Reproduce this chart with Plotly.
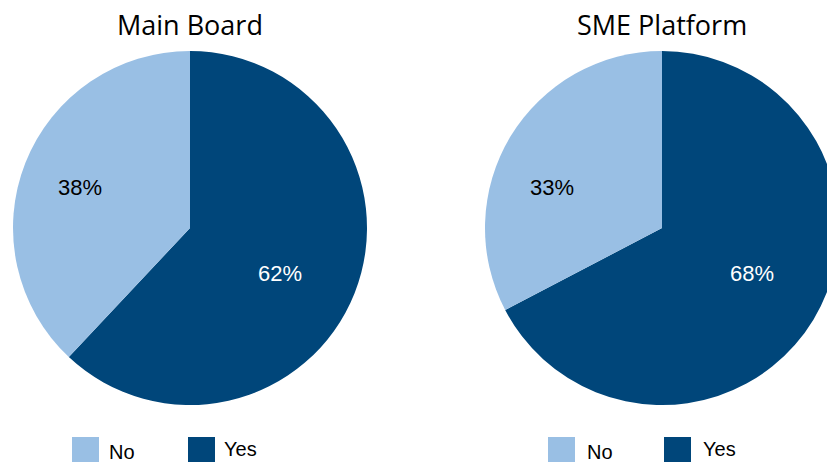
import plotly.graph_objects as go

# ---- data ----
panels = ["Main Board", "SME Platform"]
categories = ["Yes", "No"]
main_board_values = [62, 38]
sme_platform_values = [68, 33]
legend_labels = ["No", "Yes"]

# ---- style ----
W, H = 850, 462
LIGHT = "#99BFE4"
DARK = "#00467A"
colors = {"Yes": DARK, "No": LIGHT}
text_colors = {"Yes": "white", "No": "black"}
# label offsets from the pie centre (px), per category
label_offsets = {"Yes": (90, 45), "No": (-110, -41)}
FONT = "Liberation Sans"
TITLE_FONT = "Open Sans"


def px(x):
    return x / W


def py(y):
    return 1 - y / H


pie_centers = [190, 662]
R = 177
cy = 228

fig = go.Figure()
for name, vals, cx in zip(panels, [main_board_values, sme_platform_values], pie_centers):
    fig.add_trace(go.Pie(
        labels=categories,
        values=vals,
        text=[f"{v}%" for v in vals],
        textinfo="none",
        sort=False,
        direction="clockwise",
        rotation=0,
        marker=dict(colors=[colors[c] for c in categories], line=dict(width=0)),
        domain=dict(x=[px(cx - R), px(cx + R)], y=[py(cy + R), py(cy - R)]),
        showlegend=False,
        hoverinfo="label+text",
    ))
    for cat, v in zip(categories, vals):
        dx, dy = label_offsets[cat]
        fig.add_annotation(
            text=f"{v}%", x=px(cx + dx), y=py(cy + dy), xref="paper", yref="paper",
            showarrow=False, xanchor="center", yanchor="middle",
            font=dict(family=FONT, size=22, color=text_colors[cat]),
        )
    fig.add_annotation(
        text=name, x=px(cx), y=py(24), xref="paper", yref="paper",
        showarrow=False, font=dict(family=TITLE_FONT, size=27, color="black"),
        xanchor="center", yanchor="middle",
    )

# legends (drawn as shapes + text) under each pie
legend_layout = [
    [(72, 107, 452), (188, 222, 449)],
    [(548, 585, 452), (664, 701, 449)],
]
for panel in legend_layout:
    for lab, (sx, tx, ty) in zip(legend_labels, panel):
        fig.add_shape(type="rect", xref="paper", yref="paper",
                      x0=px(sx), x1=px(sx + 27), y0=py(437), y1=py(464),
                      fillcolor=colors[lab], line=dict(width=0))
        fig.add_annotation(text=lab, x=px(tx), y=py(ty), xref="paper", yref="paper",
                           showarrow=False, xanchor="left", yanchor="middle",
                           font=dict(family=FONT, size=20, color="black"))

fig.update_layout(
    width=W, height=H,
    margin=dict(l=0, r=0, t=0, b=0),
    paper_bgcolor="white", plot_bgcolor="white",
)

fig.write_html(
    "out.html",
    config={"displayModeBar": False},
    post_script="document.body.style.margin='0';document.body.style.overflow='hidden';"
                "document.documentElement.style.overflow='hidden';",
)
